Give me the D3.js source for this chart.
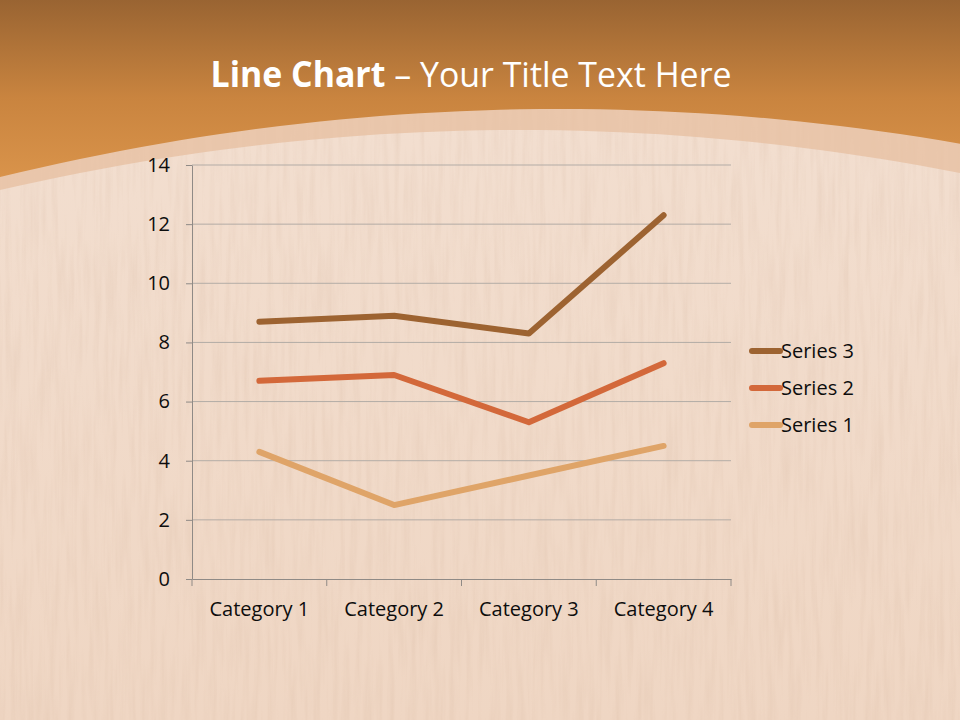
<!DOCTYPE html>
<html lang="en">
<head>
    <meta charset="UTF-8">
    <title>Line Chart</title>
    <script src="https://d3js.org/d3.v7.min.js"></script>
    <style>
        body { margin: 0; background: #f0d8c4; }
        svg { display: block; }
    </style>
</head>
<body>
    <div id="chart"></div>

    <script>
        // data (stacked line chart: each series sits on top of the previous)
        const categories = ["Category 1", "Category 2", "Category 3", "Category 4"];
        const seriesNames = ["Series 1", "Series 2", "Series 3"];
        const series1 = [4.3, 2.5, 3.5, 4.5];
        const series2 = [2.4, 4.4, 1.8, 2.8];
        const series3 = [2, 2, 3, 5];
        const yTicks = [0, 2, 4, 6, 8, 10, 12, 14];
        const colors = ["#dfa468", "#d3683a", "#9d6331"];

        const width = 960;
        const height = 720;
        const margin = { top: 165, right: 229, bottom: 141, left: 192 };

        const svg = d3.select("#chart")
            .append("svg")
            .attr("width", width)
            .attr("height", height)
            .attr("viewBox", [0, 0, width, height]);

        const defs = svg.append("defs");

        // header gradient
        const hg = defs.append("linearGradient")
            .attr("id", "header").attr("x1", 0).attr("y1", 0).attr("x2", 0).attr("y2", 1);
        hg.append("stop").attr("offset", "0%").attr("stop-color", "#996432");
        hg.append("stop").attr("offset", "55%").attr("stop-color", "#c9843f");
        hg.append("stop").attr("offset", "100%").attr("stop-color", "#d9934a");

        // wood gradient
        const wg = defs.append("linearGradient")
            .attr("id", "wood").attr("x1", 0).attr("y1", 0).attr("x2", 0).attr("y2", 1);
        wg.append("stop").attr("offset", "0%").attr("stop-color", "#f3e0d2");
        wg.append("stop").attr("offset", "100%").attr("stop-color", "#efd6c3");

        // wood grain
        const grain = defs.append("filter").attr("id", "grain")
            .attr("x", 0).attr("y", 0).attr("width", "100%").attr("height", "100%");
        grain.append("feTurbulence")
            .attr("type", "fractalNoise")
            .attr("baseFrequency", "0.18 0.012")
            .attr("numOctaves", 3)
            .attr("seed", 7)
            .attr("result", "noise");
        grain.append("feColorMatrix")
            .attr("in", "noise")
            .attr("type", "matrix")
            .attr("values", "0 0 0 0 0.6  0 0 0 0 0.4  0 0 0 0 0.28  0 0 0 -1.8 1.1");

        svg.append("rect")
            .attr("width", width).attr("height", height)
            .attr("fill", "url(#wood)");
        svg.append("rect")
            .attr("width", width).attr("height", height)
            .attr("filter", "url(#grain)")
            .attr("opacity", 0.16);

        // header band with curved bottom (parabolic edges)
        const edgeLine = d3.line();
        const edge = (c, k, a) => d3.range(0, 961, 20).map(px => [px, k + a * (px - c) * (px - c)]);
        const outer = edge(560, 109, 2.17e-4);
        const inner = edge(520, 130, 2.22e-4);
        const band = pts => "M0,0 L960,0 " + edgeLine(pts.slice().reverse()).replace("M", "L") + " Z";

        svg.append("path")
            .attr("d", band(inner))
            .attr("fill", "#e7c0a2")
            .attr("opacity", 0.8);
        svg.append("path")
            .attr("d", band(outer))
            .attr("fill", "url(#header)");

        // title
        const title = svg.append("text")
            .attr("x", 471)
            .attr("y", 87)
            .attr("text-anchor", "middle")
            .attr("fill", "#ffffff")
            .attr("font-family", "'Open Sans', sans-serif")
            .attr("font-size", 35)
            .attr("textLength", 521)
            .attr("lengthAdjust", "spacingAndGlyphs");
        title.append("tspan").attr("font-weight", "bold").text("Line Chart");
        title.append("tspan").text(" \u2013 Your Title Text Here");

        // scales
        const x = d3.scaleBand()
            .domain(categories)
            .range([margin.left, width - margin.right]);

        const y = d3.scaleLinear()
            .domain([0, 14])
            .range([height - margin.bottom, margin.top]);

        // gridlines
        svg.append("g")
            .selectAll("line")
            .data(yTicks.filter(d => d > 0))
            .join("line")
            .attr("x1", margin.left)
            .attr("x2", width - margin.right)
            .attr("y1", d => y(d))
            .attr("y2", d => y(d))
            .attr("stroke", "#b3aca6")
            .attr("stroke-width", 1);

        const font = "'Open Sans', sans-serif";
        const fontSize = 20;
        const textColor = "#0d0d0d";

        // y axis
        const yAxis = svg.append("g")
            .attr("transform", `translate(${margin.left},0)`)
            .call(d3.axisLeft(y).tickValues(yTicks).tickSize(6).tickPadding(16).tickSizeOuter(0));
        yAxis.select(".domain").attr("stroke", "#8f8a86");
        yAxis.selectAll(".tick line").attr("stroke", "#8f8a86");
        yAxis.selectAll(".tick text")
            .attr("font-family", font)
            .attr("font-size", fontSize)
            .attr("fill", textColor);

        // x axis
        const xAxis = svg.append("g")
            .attr("transform", `translate(0,${y(0)})`)
            .call(d3.axisBottom(x).tickSize(0).tickPadding(23));
        xAxis.select(".domain").attr("stroke", "#8f8a86");
        xAxis.selectAll(".tick text")
            .attr("font-family", font)
            .attr("font-size", fontSize)
            .attr("fill", textColor);

        // category boundary ticks
        const bounds = categories.map(c => x(c)).concat([x(categories[categories.length - 1]) + x.bandwidth()]);
        svg.append("g")
            .selectAll("line")
            .data(bounds)
            .join("line")
            .attr("x1", d => d).attr("x2", d => d)
            .attr("y1", y(0)).attr("y2", y(0) + 7)
            .attr("stroke", "#8f8a86");

        // stacked series
        const rows = categories.map((c, i) => ({
            category: c,
            "Series 1": series1[i],
            "Series 2": series2[i],
            "Series 3": series3[i]
        }));
        const stacked = d3.stack().keys(seriesNames)(rows);

        const line = d3.line()
            .x(d => x(d.data.category) + x.bandwidth() / 2)
            .y(d => y(d[1]));

        svg.append("g")
            .selectAll("path")
            .data(stacked)
            .join("path")
            .attr("d", d => line(d))
            .attr("fill", "none")
            .attr("stroke", (d, i) => colors[i])
            .attr("stroke-width", 6)
            .attr("stroke-linejoin", "round")
            .attr("stroke-linecap", "round");

        // legend (Series 3 on top)
        const legend = svg.append("g")
            .selectAll("g")
            .data(seriesNames.map((n, i) => ({ name: n, color: colors[i] })).reverse())
            .join("g")
            .attr("transform", (d, i) => `translate(752,${351 + i * 37})`);

        legend.append("line")
            .attr("x1", 0).attr("x2", 28)
            .attr("stroke", d => d.color)
            .attr("stroke-width", 6)
            .attr("stroke-linecap", "round");

        legend.append("text")
            .attr("x", 29)
            .attr("dy", "0.35em")
            .attr("font-family", font)
            .attr("font-size", fontSize)
            .attr("fill", textColor)
            .text(d => d.name);
    </script>
</body>
</html>
